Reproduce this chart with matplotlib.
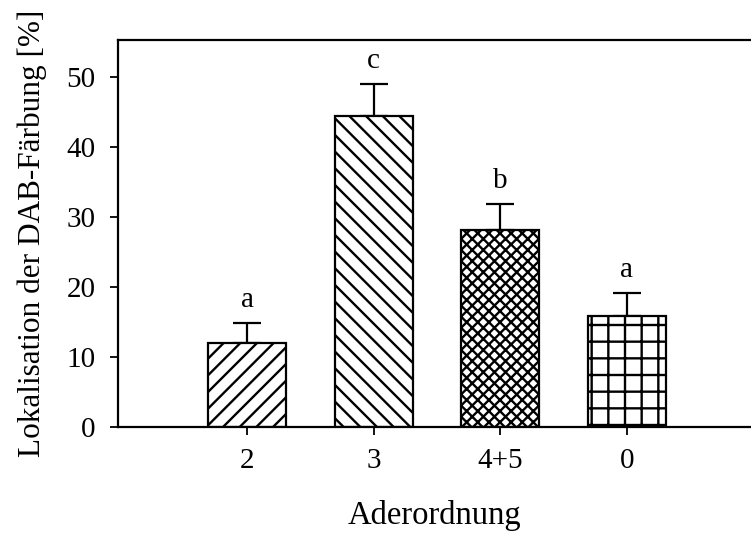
import matplotlib
matplotlib.use("Agg")
import matplotlib.pyplot as plt

plt.rcParams['font.family'] = ['Liberation Serif', 'DejaVu Serif']
plt.rcParams['hatch.linewidth'] = 1.7
plt.rcParams['hatch.color'] = 'black'

categories = ['2', '3', '4+5', '0']
means = [12.0, 44.4, 28.1, 15.9]
errors = [2.9, 4.6, 3.8, 3.3]
letters = ['a', 'c', 'b', 'a']
hatches = ['//', '\\\\', 'xxx', '+']

fig = plt.figure(figsize=(7.51, 5.34), dpi=100)
ax = fig.add_axes([118 / 751, 107 / 534, 1 - 118 / 751, 387 / 534])

x = list(range(len(categories)))
for xi, m, e, h in zip(x, means, errors, hatches):
    ax.bar(xi, m, width=0.616, facecolor='white', edgecolor='black',
           linewidth=1.6, hatch=h, zorder=2)
    ax.errorbar(xi, m, yerr=[[0], [e]], fmt='none', ecolor='black',
                elinewidth=1.6, capsize=10, capthick=1.6, zorder=1)

for xi, m, e, t in zip(x, means, errors, letters):
    ax.text(xi, m + e + 2.3, t, ha='center', va='baseline', fontsize=21)

ax.set_xlim(-1.02, 3.98)
ax.set_ylim(0, 55.3)
ax.set_xticks(x)
ax.set_xticklabels(categories)
ax.set_yticks([0, 10, 20, 30, 40, 50])
ax.tick_params(axis='y', direction='out', length=6, width=1.3, labelsize=21, pad=10)
ax.tick_params(axis='x', direction='out', length=6, width=1.3, labelsize=21, pad=9)

for s in ['left', 'bottom', 'top']:
    ax.spines[s].set_linewidth(1.6)
ax.spines['right'].set_visible(False)

ax.set_ylabel('Lokalisation der DAB-Färbung [%]', fontsize=22.5, labelpad=14)
ax.set_xlabel('Aderordnung', fontsize=23.5, labelpad=19)

fig.savefig('out.png', dpi=100)
